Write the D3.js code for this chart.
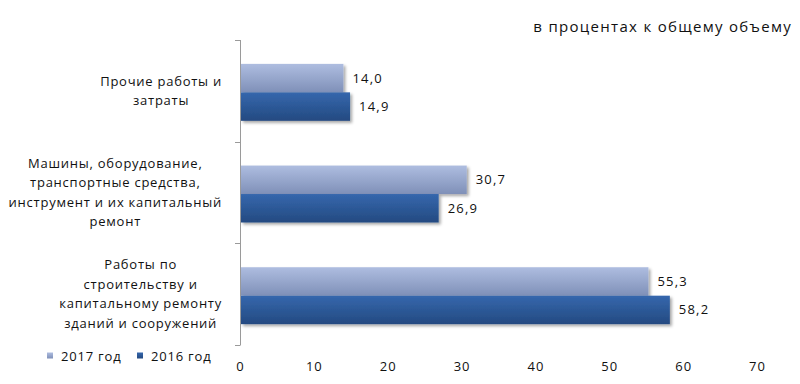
<!DOCTYPE html>
<html>
<head>
<meta charset="utf-8">
<script src="https://cdn.jsdelivr.net/npm/d3@7"></script>
<style>
  body { margin: 0; background: #fff; }
  text { font-family: "Open Sans", "DejaVu Sans", sans-serif; fill: #111; }
</style>
</head>
<body>
<div id="G"></div>
<script>
// data
var categories = [
  ["Прочие работы  и", "затраты"],
  ["Машины, оборудование,", "транспортные средства,", "инструмент и их капитальный", "ремонт"],
  ["Работы по", "строительству и", "капитальному ремонту", "зданий и сооружений"]
];
var seriesNames = ["2017 год", "2016 год"];
var values2017 = [14.0, 30.7, 55.3];
var values2016 = [14.9, 26.9, 58.2];
var xTicks = [0, 10, 20, 30, 40, 50, 60, 70];
var title = "в процентах к общему объему";

var W = 800, H = 384;
var Border = { top: 40, right: 43, bottom: 39, left: 240 };

var svg = d3.select("#G").append("svg")
  .attr("width", W).attr("height", H);

var defs = svg.append("defs");
var grads = [["g2017", "#aebde0", "#7f90b8"], ["g2016", "#3567ad", "#244a81"]];
grads.forEach(function (g) {
  var lg = defs.append("linearGradient").attr("id", g[0])
    .attr("x1", 0).attr("y1", 0).attr("x2", 0).attr("y2", 1);
  lg.append("stop").attr("offset", "0%").attr("stop-color", g[1]);
  lg.append("stop").attr("offset", "100%").attr("stop-color", g[2]);
});
var f = defs.append("filter").attr("id", "shadow")
  .attr("x", "-5%").attr("y", "-20%").attr("width", "115%").attr("height", "160%");
f.append("feDropShadow").attr("dx", 2).attr("dy", 2).attr("stdDeviation", 1.5)
  .attr("flood-color", "#000").attr("flood-opacity", 0.35);

var x = d3.scaleLinear()
  .domain([0, 70])
  .range([Border.left, W - Border.right]);

var y = d3.scaleBand()
  .domain(d3.range(categories.length))
  .range([Border.top, H - Border.bottom])
  .padding(0);

var inner = d3.scaleBand()
  .domain([0, 1])
  .range([y.bandwidth() * 0.235, y.bandwidth() * 0.795])
  .padding(0);

var colors = ["url(#g2017)", "url(#g2016)"];
var seriesValues = [values2017, values2016];

// bars
var groups = svg.selectAll(".cat")
  .data(categories)
  .enter().append("g")
  .attr("transform", function (d, i) { return "translate(0," + y(i) + ")"; });

groups.each(function (d, i) {
  var g = d3.select(this);
  seriesValues.forEach(function (vals, s) {
    g.append("rect")
      .attr("x", x(0) + 1)
      .attr("y", inner(s))
      .attr("width", x(vals[i]) - x(0) - 1)
      .attr("height", inner.bandwidth())
      .attr("fill", colors[s])
      .attr("filter", "url(#shadow)");
    g.append("text")
      .attr("x", x(vals[i]) + 9)
      .attr("y", inner(s) + inner.bandwidth() / 2)
      .attr("dy", "0.35em")
      .style("font-size", "13px").style("letter-spacing", "1.2px")
      .text(d3.format(".1f")(vals[i]).replace(".", ","));
  });
});

// left axis
var ax = svg.append("g").attr("stroke", "#9a9a9a").attr("stroke-width", 1);
ax.append("line")
  .attr("x1", x(0) + 0.5).attr("x2", x(0) + 0.5)
  .attr("y1", y.range()[0]).attr("y2", y.range()[1]);
d3.range(categories.length + 1).forEach(function (i) {
  var yy = Math.round(y.range()[0] + i * y.step()) + 0.5;
  ax.append("line")
    .attr("x1", x(0) - 5).attr("x2", x(0) + 0.5)
    .attr("y1", yy).attr("y2", yy);
});

// category labels
var lineH = 19.5;
groups.each(function (lines, i) {
  var g = d3.select(this);
  var t = g.append("text").style("font-size", "13px").style("letter-spacing", "0.75px")
    .attr("text-anchor", "middle");
  var spans = lines.map(function (l, k) {
    return t.append("tspan")
      .attr("y", y.bandwidth() / 2 + (k - (lines.length - 1) / 2) * lineH)
      .attr("dy", "0.35em")
      .text(l);
  });
  var maxW = d3.max(spans, function (s) { return s.node().getComputedTextLength(); });
  var cx = 222 - maxW / 2;
  spans.forEach(function (s) { s.attr("x", cx); });
});

// x axis
var xa = svg.append("g")
  .attr("transform", "translate(0," + (H - Border.bottom + 15) + ")")
  .call(d3.axisBottom(x).tickValues(xTicks).tickSize(0).tickPadding(0));
xa.select(".domain").remove();
xa.selectAll("text").style("font-size", "13px").style("letter-spacing", "1px")
  .style("font-family", null).attr("dy", "0.35em").attr("y", 6);

// legend
var leg = svg.append("g").attr("transform", "translate(47," + (H - 28) + ")");
var legX = [0, 90];
seriesNames.forEach(function (n, s) {
  leg.append("rect")
    .attr("x", legX[s]).attr("y", -3.5)
    .attr("width", 6).attr("height", 6)
    .attr("fill", colors[s]);
  leg.append("text")
    .attr("x", legX[s] + 14).attr("y", 0).attr("dy", "0.35em")
    .style("font-size", "13px").style("letter-spacing", "0.8px")
    .text(n);
});

// title
svg.append("text")
  .attr("x", 792).attr("y", 27).attr("dy", "0.35em")
  .attr("text-anchor", "end")
  .style("font-size", "15px").style("letter-spacing", "1.3px")
  .text(title);
</script>
</body>
</html>
